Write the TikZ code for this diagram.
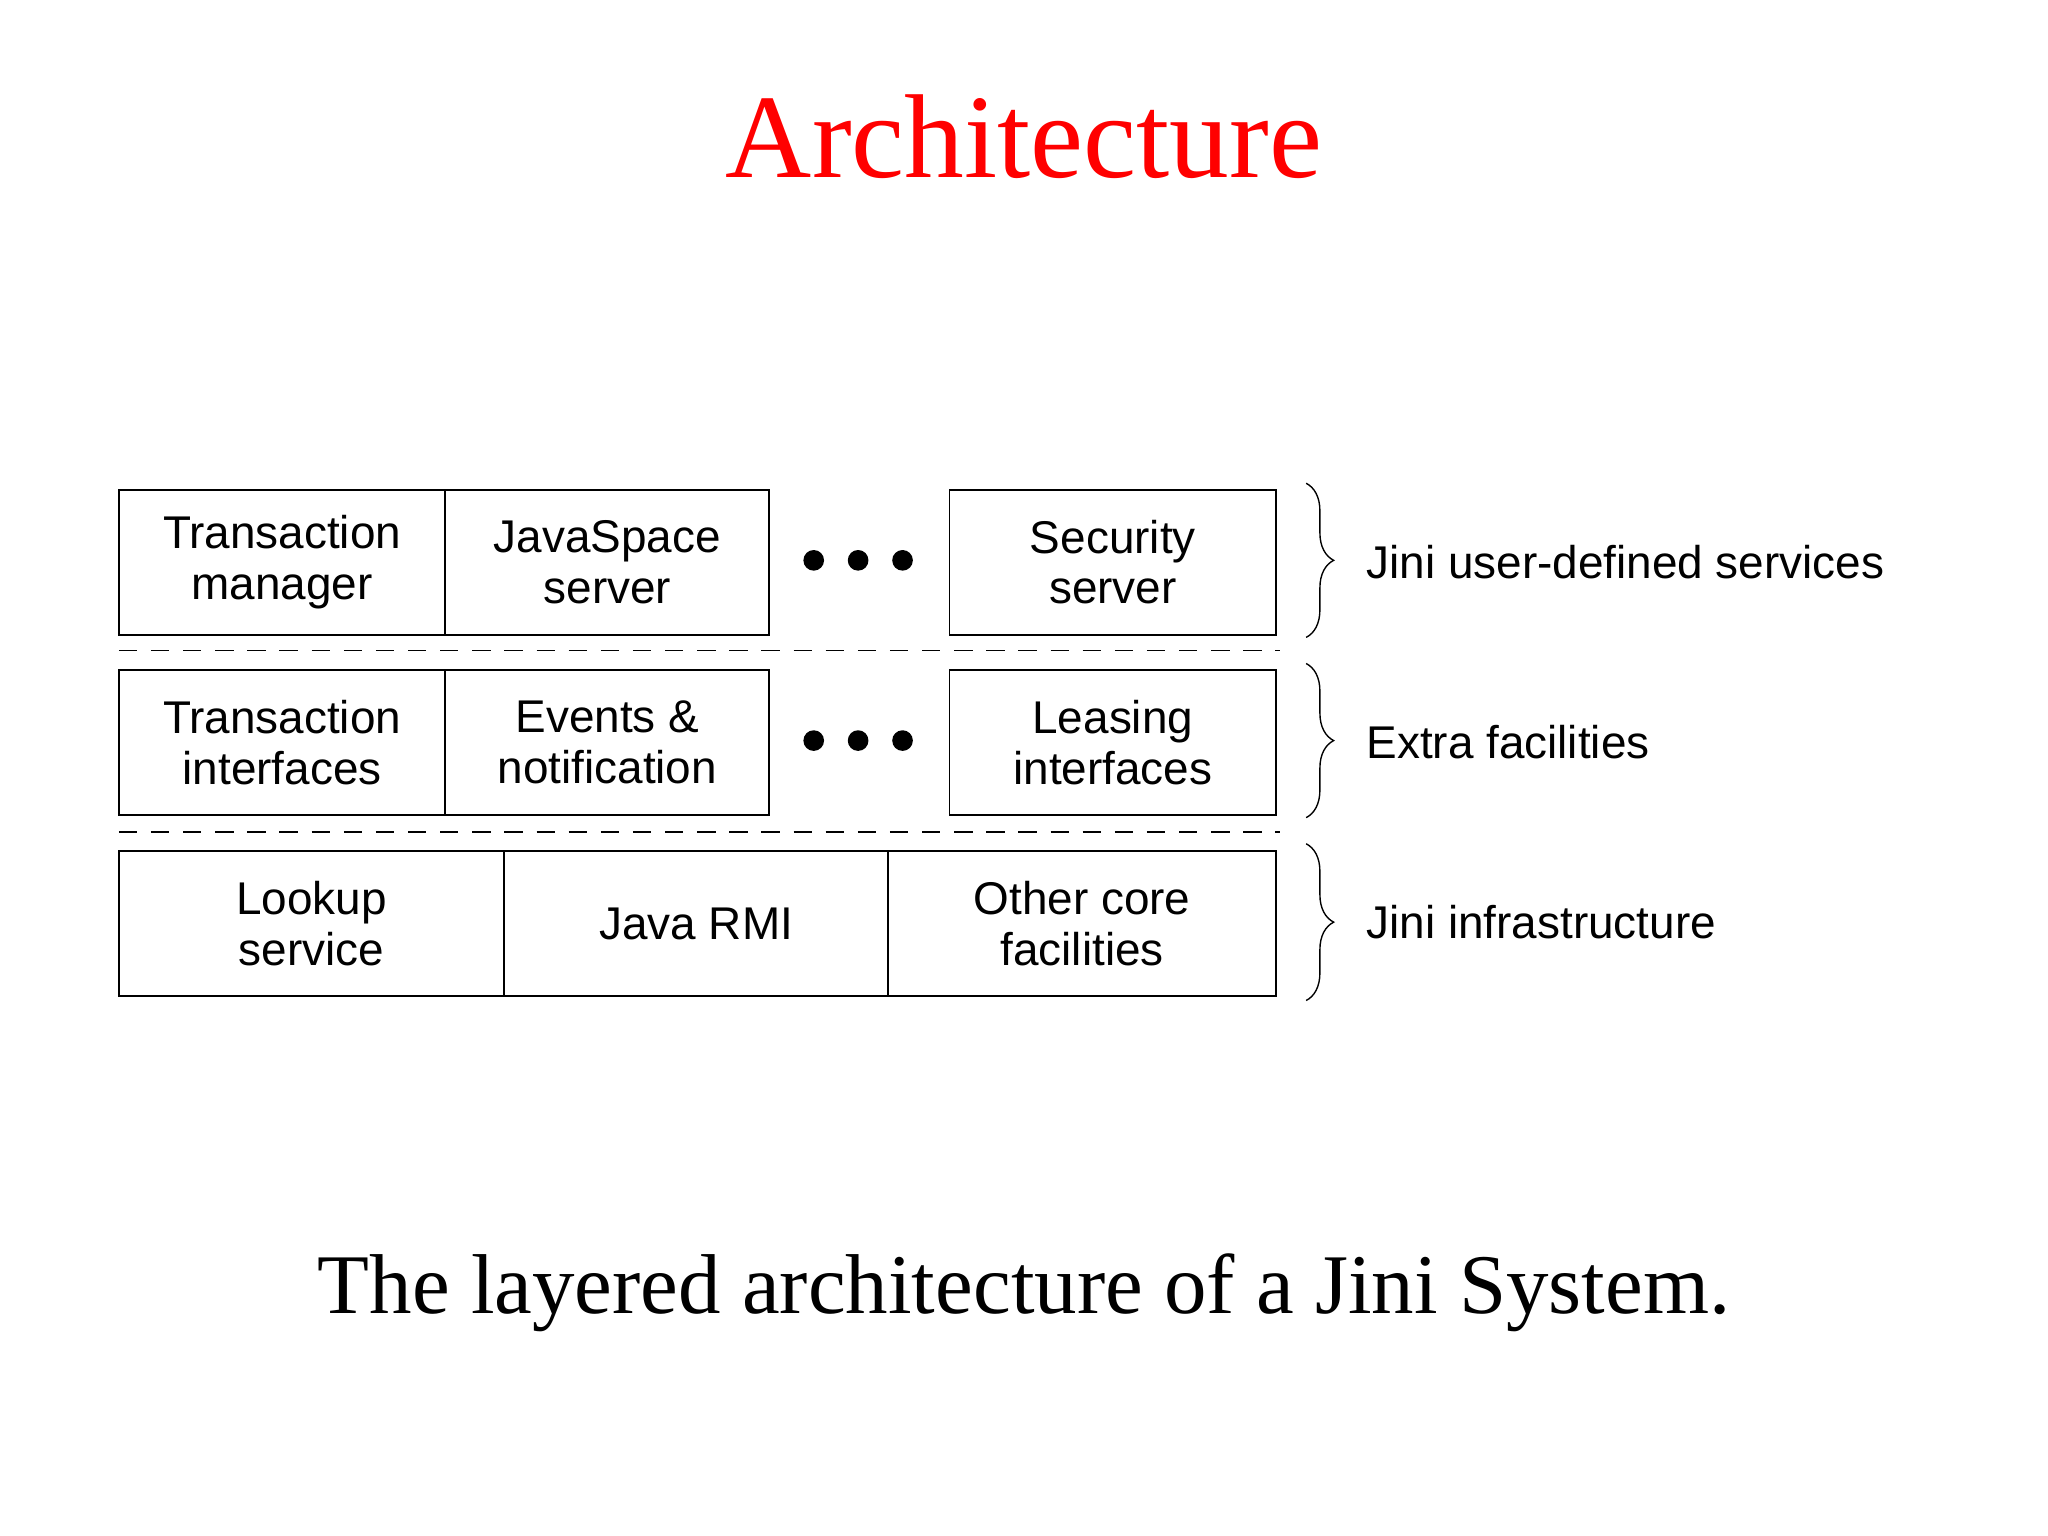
\documentclass[tikz,border=0pt]{standalone}
\usepackage{fontspec}
\setmainfont{Liberation Serif}
\newfontfamily\sans{Liberation Sans}
\usetikzlibrary{decorations.pathreplacing}
\begin{document}
\begin{tikzpicture}[x=0.02cm,y=-0.02cm,
 bx/.style={draw,line width=0.8pt,minimum height=111*0.02cm,inner sep=0pt,align=center,font=\sans\fontsize{20}{22}\selectfont},
 lbl/.style={anchor=west,font=\sans\fontsize{20}{22}\selectfont},
 dsh/.style={dashed,line width=0.6pt,dash pattern=on 8pt off 6pt},
 br/.style={decorate,decoration={brace,amplitude=12pt},line width=0.6pt},
 dot/.style={fill,circle,inner sep=0pt,minimum size=9pt}]
\useasboundingbox (0,0) rectangle (1568,1176);
\node[text=red,font=\fontsize{52}{56}\selectfont] (title) at (784,105) {Architecture};
% row 1
\node[bx,minimum width=250*0.02cm] (tm) at (216,430.5) {Transaction\\manager};
\node[bx,minimum width=248*0.02cm] (js) at (465,430.5) {JavaSpace\\server};
\node[bx,minimum width=250*0.02cm] (ss) at (852,430.5) {Security\\server};
\node[dot] (d1) at (623,429) {}; \node[dot] (d2) at (657,429) {}; \node[dot] (d3) at (691,429) {};
\draw[dsh] (91,498) -- (980,498);
% row 2
\node[bx,minimum width=250*0.02cm] (ti) at (216,568.5) {Transaction\\interfaces};
\node[bx,minimum width=248*0.02cm] (en) at (465,568.5) {Events \&\\notification};
\node[bx,minimum width=250*0.02cm] (li) at (852,568.5) {Leasing\\interfaces};
\node[dot] (e1) at (623,567) {}; \node[dot] (e2) at (657,567) {}; \node[dot] (e3) at (691,567) {};
\draw[dsh] (91,637) -- (980,637);
% row 3
\node[bx,minimum width=295*0.02cm] (ls) at (238.5,707) {Lookup\\service};
\node[bx,minimum width=294*0.02cm] (rmi) at (533,707) {Java RMI};
\node[bx,minimum width=297*0.02cm] (oc) at (828.5,707) {Other core\\facilities};
% braces
\draw[br] (1000,370) -- (1000,488);
\draw[br] (1000,508) -- (1000,626);
\draw[br] (1000,646) -- (1000,766);
\node[lbl] (l1) at (1040,430) {Jini user-defined services};
\node[lbl] (l2) at (1040,568) {Extra facilities};
\node[lbl] (l3) at (1040,706) {Jini infrastructure};
\node[font=\fontsize{37}{40}\selectfont] (cap) at (784,990) {The layered architecture of a Jini System.};
\end{tikzpicture}
\end{document}
